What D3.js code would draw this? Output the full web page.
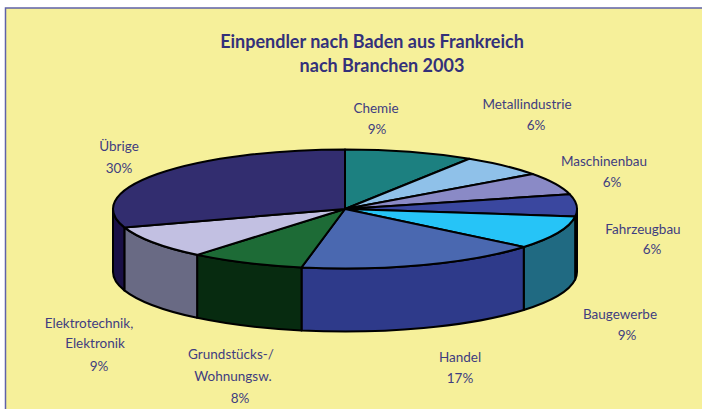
<!DOCTYPE html>
<html><head><meta charset="utf-8">
<script src="https://cdn.jsdelivr.net/npm/d3@7"></script>
<style>html,body{margin:0;padding:0;background:#fff}svg{display:block}</style>
</head><body><div id="c"></div>
<script>
const categories=["Chemie","Metallindustrie","Maschinenbau","Fahrzeugbau","Baugewerbe","Handel","Grundstücks-/ Wohnungsw.","Elektrotechnik, Elektronik","Übrige"];
const values=[9,6,6,6,9,17,8,9,30];
const topColors=["#1c8080","#8fc1e9","#8a8ac6","#3a479f","#26c4f7","#4a68b0","#1d6b36","#c2c0e2","#322d6f"];
const sideColors=["#1c8080","#8fc1e9","#8a8ac6","#3a479f","#206a82","#2e3a8a","#072b10","#696a84","#1a1046"];
const labelLines=[["Chemie","9%"],["Metallindustrie","6%"],["Maschinenbau","6%"],["Fahrzeugbau","6%"],["Baugewerbe","9%"],["Handel","17%"],["Grundstücks-/","Wohnungsw.","8%"],["Elektrotechnik,","Elektronik","9%"],["Übrige","30%"]];
const labelX=[[376,377],[527,536],[604,612],[643,652],[620,627],[460,460],[231,233,240],[89,95,99],[119,119]];
const labelY=[[108,129],[104,125],[161,182],[229,249],[314,335],[357,378],[354,376,398],[323,343,366],[146,168]];
const titleLines=["Einpendler nach Baden aus Frankreich","nach Branchen 2003"];
const titlePos=[[372,42],[382,66]];

const W=702,H=409,cx=345,cy=209,rx=232,ry=59.5,depth=63;
const svg=d3.select("#c").append("svg").attr("width",W).attr("height",H);
svg.append("rect").attr("x",5.5).attr("y",8).attr("width",W+5).attr("height",H+5)
  .attr("fill","#f6f09a").attr("stroke","#5f62a8").attr("stroke-width",1.5);

const pie=d3.pie().value(d=>d).sort(null);
const arcs=pie(values);
const X=a=>cx+rx*Math.sin(a),Y=a=>cy-ry*Math.cos(a);
const HALF=Math.PI/2,ONEHALF=3*Math.PI/2;
const sides=svg.append("g");
arcs.forEach((d,i)=>{
  const a0=Math.max(d.startAngle,HALF),a1=Math.min(d.endAngle,ONEHALF);
  if(a1<=a0)return;
  const large=(a1-a0)>Math.PI?1:0;
  const p=`M${X(a0)},${Y(a0)}A${rx},${ry} 0 ${large} 1 ${X(a1)},${Y(a1)}L${X(a1)},${Y(a1)+depth}A${rx},${ry} 0 ${large} 0 ${X(a0)},${Y(a0)+depth}Z`;
  sides.append("path").attr("d",p).attr("fill",sideColors[i]).attr("stroke","#000").attr("stroke-width",2).attr("stroke-linejoin","round");
});
const arc=d3.arc().innerRadius(0).outerRadius(rx);
svg.append("g").attr("transform",`translate(${cx},${cy}) scale(1,${ry/rx})`)
  .selectAll("path").data(arcs).join("path")
  .attr("d",arc).attr("fill",(d,i)=>topColors[i])
  .attr("stroke","#000").attr("stroke-width",2).attr("stroke-linejoin","round")
  .attr("vector-effect","non-scaling-stroke");

svg.append("g").selectAll("text").data(titleLines).join("text")
  .attr("x",(d,i)=>titlePos[i][0]).attr("y",(d,i)=>titlePos[i][1]+6)
  .attr("text-anchor","middle").attr("font-family","Lato").attr("font-weight",700)
  .attr("font-size",18).attr("fill","#33307a").text(d=>d);

const lg=svg.append("g").attr("font-family","Lato").attr("font-size",13.5).attr("fill","#3f3d80").attr("text-anchor","middle");
labelLines.forEach((lines,i)=>{
  lines.forEach((t,j)=>{
    lg.append("text").attr("x",labelX[i][j]).attr("y",labelY[i][j]+5).text(t);
  });
});
</script></body></html>
